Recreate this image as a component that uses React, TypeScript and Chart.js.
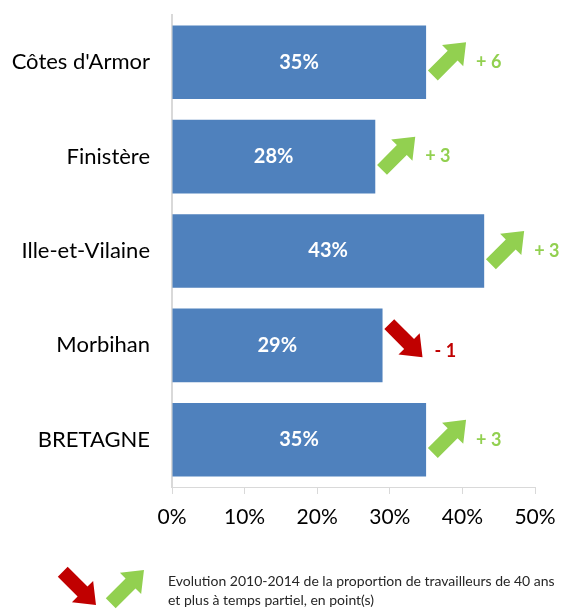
import React, { useEffect, useRef } from "react";
import { Chart, registerables } from "chart.js";

Chart.register(...registerables);

const categories = ["Côtes d'Armor", "Finistère", "Ille-et-Vilaine", "Morbihan", "BRETAGNE"];
const shares = [35, 28, 43, 29, 35];
const evolutions = [6, 3, 3, -1, 3];
const xTicks = [0, 10, 20, 30, 40, 50];
const legendLines = [
  "Evolution 2010-2014 de la proportion de travailleurs de 40 ans",
  "et plus à temps partiel, en point(s)",
];

const FONT = "Lato, 'Open Sans', sans-serif";
const GREEN = "#92D050";
const RED = "#C00000";

function drawArrow(ctx: CanvasRenderingContext2D, cx: number, cy: number, angle: number, color: string) {
  ctx.save();
  ctx.translate(cx, cy);
  ctx.rotate(angle);
  ctx.beginPath();
  ctx.moveTo(-23, -7);
  ctx.lineTo(5, -7);
  ctx.lineTo(5, -15);
  ctx.lineTo(24, 0);
  ctx.lineTo(5, 15);
  ctx.lineTo(5, 7);
  ctx.lineTo(-23, 7);
  ctx.closePath();
  ctx.fillStyle = color;
  ctx.fill();
  ctx.restore();
}

const overlayPlugin = {
  id: "overlay",
  afterDatasetsDraw(chart: any) {
    const ctx: CanvasRenderingContext2D = chart.ctx;
    const meta = chart.getDatasetMeta(0);
    ctx.save();
    meta.data.forEach((bar: any, i: number) => {
      const x0 = chart.scales.x.getPixelForValue(0);
      const xe = bar.x;
      const yc = bar.y;
      ctx.fillStyle = "#ffffff";
      ctx.font = `bold 20px ${FONT}`;
      ctx.textAlign = "center";
      ctx.textBaseline = "middle";
      ctx.fillText(`${shares[i]}%`, (x0 + xe) / 2, yc);
      const ev = evolutions[i];
      const up = ev >= 0;
      const color = up ? GREEN : RED;
      drawArrow(ctx, xe + 23, yc + (up ? -3 : -5), up ? -Math.PI / 4 : Math.PI / 4, color);
      ctx.fillStyle = color;
      ctx.font = `bold 18px ${FONT}`;
      ctx.textAlign = "left";
      ctx.fillText(up ? `+ ${ev}` : `- ${Math.abs(ev)}`, xe + (up ? 50 : 52), yc + (up ? 0 : 6));
    });
    drawArrow(ctx, 79, 588, Math.PI / 4, RED);
    drawArrow(ctx, 127, 587, -Math.PI / 4, GREEN);
    ctx.fillStyle = "#262626";
    ctx.font = `14px ${FONT}`;
    ctx.textAlign = "left";
    ctx.textBaseline = "middle";
    ctx.fillText(legendLines[0], 168, 581);
    ctx.fillText(legendLines[1], 168, 600);
    ctx.restore();
  },
};

export default function App() {
  const ref = useRef<HTMLCanvasElement>(null);
  useEffect(() => {
    if (!ref.current) return;
    const chart = new Chart(ref.current, {
      type: "bar",
      data: {
        labels: categories,
        datasets: [
          {
            data: shares,
            backgroundColor: "#4F81BD",
            categoryPercentage: 0.78,
            barPercentage: 1,
          },
        ],
      },
      options: {
        indexAxis: "y",
        animation: false,
        responsive: false,
        layout: { padding: { top: 15, right: 43, left: 0, bottom: 0 } },
        plugins: { legend: { display: false }, tooltip: { enabled: false } },
        scales: {
          x: {
            min: 0,
            max: 50,
            afterBuildTicks: (scale: any) => {
              scale.ticks = xTicks.map((v) => ({ value: v }));
            },
            afterFit: (scale: any) => {
              scale.height = 123;
              scale.paddingLeft = 0;
              scale.paddingRight = 0;
            },
            grid: {
              drawOnChartArea: false,
              drawTicks: true,
              tickLength: 7,
              color: "#d9d9d9",
              lineWidth: 1,
            },
            border: { display: true, color: "#d9d9d9", width: 1 },
            ticks: {
              color: "#000000",
              font: { family: FONT, size: 21 },
              padding: 11,
              maxRotation: 0,
              callback: (v: any) => `${v}%`,
            },
          },
          y: {
            afterFit: (scale: any) => {
              scale.width = 172;
              scale.paddingTop = 0;
              scale.paddingBottom = 0;
            },
            grid: { display: false, drawTicks: false },
            border: { display: true, color: "#d9d9d9", width: 2 },
            ticks: {
              color: "#000000",
              font: { family: FONT, size: 22 },
              padding: 22,
            },
          },
        },
      },
      plugins: [overlayPlugin],
    });
    return () => chart.destroy();
  }, []);
  return (
    <div style={{ position: "fixed", left: 0, top: 0, width: 578, height: 610, background: "#fff" }}>
      <canvas ref={ref} width={578} height={610} style={{ width: 578, height: 610 }} />
    </div>
  );
}
